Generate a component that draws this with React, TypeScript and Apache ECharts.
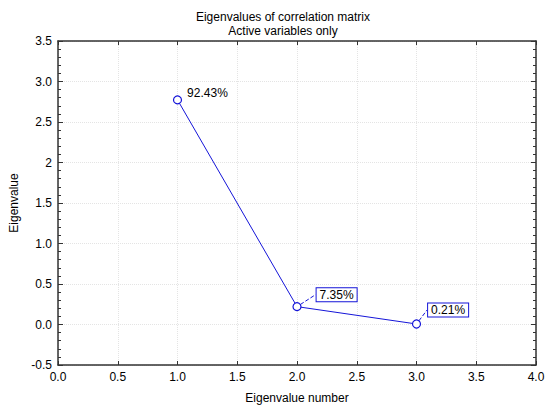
import React, { useRef, useEffect } from 'react';
import * as echarts from 'echarts';

const eigenNumbers = [1, 2, 3];
const eigenValues = [2.773, 0.2205, 0.0063];
const percentLabels = ['92.43%', '7.35%', '0.21%'];
const boxedLabel = [false, true, true];
const labelShift: [number, number][] = [[0, -7], [10, -12], [2, -14]];

const xTickLabels = ['0.0', '0.5', '1.0', '1.5', '2.0', '2.5', '3.0', '3.5', '4.0'];
const yTickLabels = ['-0.5', '0.0', '0.5', '1.0', '1.5', '2', '2.5', '3.0', '3.5'];

const BLUE = '#1515d8';
const AXIS = '#333';
const FONT = 'Liberation Sans, Arial, sans-serif';

const App: React.FC = () => {
  const chartRef = useRef<HTMLDivElement>(null);

  useEffect(() => {
    document.body.style.margin = '0';
    if (!chartRef.current) return;
    const chart = echarts.init(chartRef.current, null, { renderer: 'svg' });

    const frameLine = { show: true, onZero: false, lineStyle: { color: AXIS, width: 1.5 } };
    const tick = { show: true, inside: true, length: 4, lineStyle: { color: AXIS } };
    const minor = { show: true, splitNumber: 5, length: 3, lineStyle: { color: AXIS } };
    const grid = { show: true, lineStyle: { color: '#e4e4e4', type: 'dotted' } };

    const options = {
      animation: false,
      backgroundColor: '#fff',
      textStyle: { fontFamily: FONT },
      title: {
        text: 'Eigenvalues of correlation matrix\nActive variables only',
        left: 278,
        textAlign: 'center',
        top: 5,
        textStyle: { fontSize: 12, fontWeight: 'normal', color: '#000', lineHeight: 14, fontFamily: FONT },
      },
      grid: { left: 53, right: 14, top: 41, bottom: 48, containLabel: false },
      xAxis: [
        {
          type: 'value',
          min: 0,
          max: 4,
          interval: 0.5,
          name: 'Eigenvalue number',
          nameLocation: 'middle',
          nameGap: 27,
          nameTextStyle: { fontSize: 12, color: '#000', fontFamily: FONT },
          axisLine: frameLine,
          axisTick: tick,
          axisLabel: {
            color: '#000',
            fontSize: 12,
            margin: 6,
            formatter: (v: number) => xTickLabels[Math.round(v / 0.5)],
          },
          splitLine: grid,
        },
        {
          type: 'value',
          position: 'top',
          min: 0,
          max: 4,
          interval: 0.5,
          axisLine: frameLine,
          axisTick: tick,
          axisLabel: { show: false },
          splitLine: { show: false },
        },
      ],
      yAxis: [
        {
          type: 'value',
          min: -0.5,
          max: 3.5,
          interval: 0.5,
          name: 'Eigenvalue',
          nameLocation: 'middle',
          nameGap: 38,
          nameTextStyle: { fontSize: 12, color: '#000', fontFamily: FONT },
          axisLine: frameLine,
          axisTick: { ...tick, length: 5 },
          minorTick: minor,
          axisLabel: {
            color: '#000',
            fontSize: 12,
            margin: 6,
            formatter: (v: number) => yTickLabels[Math.round((v + 0.5) / 0.5)],
          },
          splitLine: grid,
        },
        {
          type: 'value',
          position: 'right',
          min: -0.5,
          max: 3.5,
          interval: 0.5,
          axisLine: frameLine,
          axisTick: { ...tick, length: 5 },
          minorTick: minor,
          axisLabel: { show: false },
          splitLine: { show: false },
        },
      ],
      series: [
        {
          type: 'line',
          xAxisIndex: 0,
          yAxisIndex: 0,
          symbol: 'circle',
          symbolSize: 8,
          showSymbol: true,
          lineStyle: { color: BLUE, width: 1 },
          itemStyle: { color: '#fff', borderColor: BLUE, borderWidth: 1.2 },
          data: eigenNumbers.map((x, i) => ({
            value: [x, eigenValues[i]],
            label: {
              show: true,
              position: 'right',
              distance: 5,
              formatter: percentLabels[i],
              color: '#000',
              fontSize: 12,
              fontFamily: FONT,
              ...(boxedLabel[i]
                ? { backgroundColor: '#fff', borderColor: BLUE, borderWidth: 1, padding: [1, 3, 0, 3] }
                : { padding: 0 }),
            },
            labelLine: {
              show: boxedLabel[i],
              lineStyle: { color: BLUE, type: 'dashed', width: 1 },
            },
          })),
          labelLine: { show: true, lineStyle: { color: BLUE, type: 'dashed', width: 1 } },
          labelLayout: (params: any) => {
            const s = labelShift[params.dataIndex];
            return { dx: s[0], dy: s[1] };
          },
        },
      ],
    };

    chart.setOption(options as any);
    return () => {
      chart.dispose();
    };
  }, []);

  return <div ref={chartRef} style={{ width: 550, height: 413 }} />;
};

export default App;
